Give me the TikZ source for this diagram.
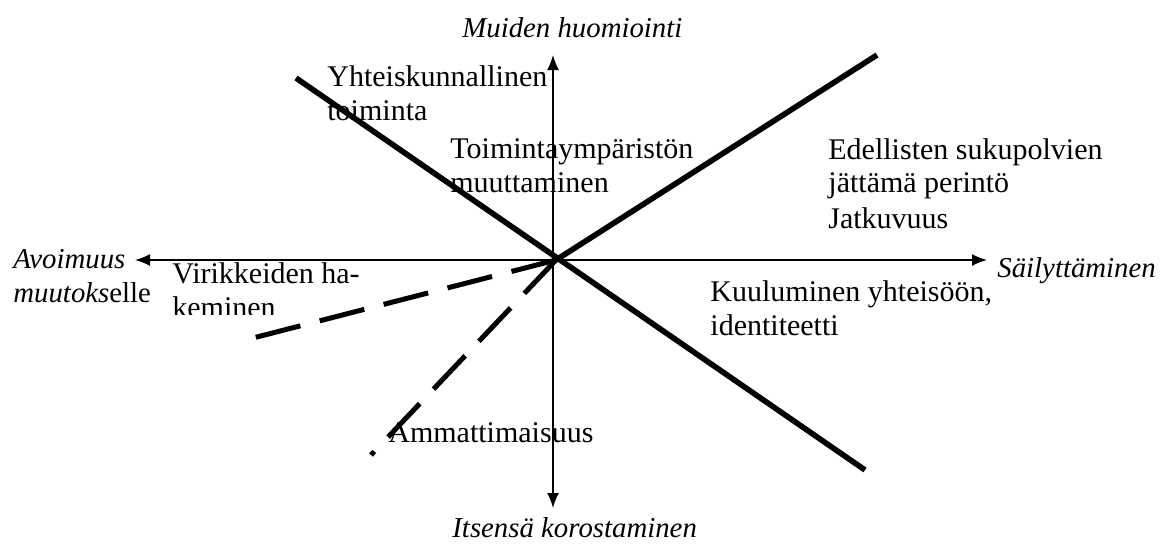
\documentclass[tikz,border=0pt]{standalone}
\usepackage{fontspec}
\setmainfont{Liberation Serif}
\usetikzlibrary{arrows.meta}
\begin{document}
\begin{tikzpicture}[x=0.5pt, y=-0.5pt, >={Latex[length=7.5pt,width=6pt]},
  axis/.style={line width=0.75pt},
  bar/.style={line width=2.8pt},
  dashbar/.style={line width=2.5pt, dash pattern=on 23pt off 10pt},
  lbl/.style={anchor=base west, inner sep=0pt, align=left, font=\fontsize{15}{16.75}\selectfont},
  axlbl/.style={lbl, font=\fontsize{14.4}{16.75}\selectfont\itshape}]
\useasboundingbox (0,0) rectangle (1160,547);
\coordinate (O) at (556,260);
\coordinate (W) at (135,260);
\coordinate (E) at (987,260);
\coordinate (N) at (553,55);
\coordinate (S) at (553,508);
\coordinate (a1) at (296,78);
\coordinate (a2) at (865,470);
\coordinate (b1) at (877,55);
\coordinate (c1) at (253,338);
\coordinate (d1) at (371,455);
\draw[axis,<->] (W) -- (E);
\draw[axis,<->] (S) -- (N);
\draw[bar] (a1) -- (a2);
\draw[bar] (b1) -- (O);
\draw[dashbar] (O) -- (c1);
\draw[dashbar] (O) -- (d1);

% multi-line labels sit on the baseline of their last line
\node[axlbl] (muiden) at (462,37) {Muiden huomiointi};
\node[axlbl] (itsensa) at (452,537) {Itsensä korostaminen};
\node[axlbl] (avoimuus) at (13,302) {Avoimuus\\muutoks\textup{elle}};
\node[axlbl] (sailyt) at (997,277) {Säilyttäminen};
\node[lbl] (yhteis) at (327,120) {Yhteiskunnallinen\\toiminta};
\node[lbl] (toimin) at (450,192) {Toimintaympäristön\\muuttaminen};
\node[lbl] (edell) at (828,228) {Edellisten sukupolvien\\jättämä perintö\\[1pt]Jatkuvuus};
\node[lbl] (kuulum) at (710,335) {Kuuluminen yhteisöön,\\identiteetti};
\node[lbl] (ammatti) at (388,442) {Ammattimaisuus};
\begin{scope}
\clip (160,240) rectangle (420,314);
\node[lbl] (virik) at (172,317) {Virikkeiden ha-\\keminen};
\end{scope}
\end{tikzpicture}
\end{document}
